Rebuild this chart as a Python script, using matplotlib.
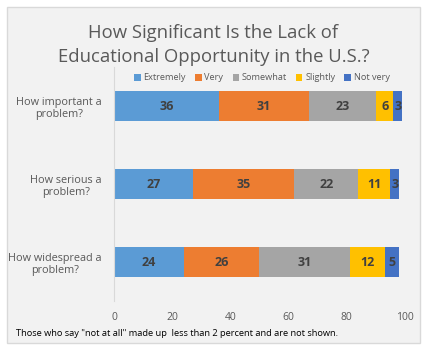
import matplotlib.pyplot as plt
from matplotlib.patches import Rectangle

questions = ["How important a\nproblem?", "How serious a\nproblem?", "How widespread a\nproblem?"]
levels = ["Extremely", "Very", "Somewhat", "Slightly", "Not very"]
extremely = [36, 27, 24]
very = [31, 35, 26]
somewhat = [23, 22, 31]
slightly = [6, 11, 12]
not_very = [3, 3, 5]
colors = ["#5B9BD5", "#ED7D31", "#A5A5A5", "#FFC000", "#4472C4"]

plt.rcParams['font.family'] = ['Open Sans', 'DejaVu Sans']

fig = plt.figure(figsize=(4.27, 3.5), dpi=100)
fig.patch.set_facecolor("white")
# grey chart area with border
fig.patches.append(Rectangle((7 / 427, 7 / 350), 413 / 427, 336 / 350, transform=fig.transFigure,
                             facecolor="#F2F2F2", edgecolor="#D9D9D9", lw=1, zorder=-1))

ax = fig.add_axes([114 / 427, 49 / 350, 291 / 427, 234 / 350])
ax.set_facecolor("none")
ax.set_zorder(2)

ypos = list(range(len(questions)))
left = [0] * len(questions)
for name, vals, col in zip(levels, [extremely, very, somewhat, slightly, not_very], colors):
    bars = ax.barh(ypos, vals, left=left, height=0.39, color=col, label=name)
    for b, v in zip(bars, vals):
        ax.text(b.get_x() + b.get_width() / 2, b.get_y() + b.get_height() / 2, str(v),
                ha="center", va="center", fontsize=9, fontweight="bold", color="#404040")
    left = [l + v for l, v in zip(left, vals)]

ax.set_xlim(0, 100)
ax.set_ylim(2.5, -0.5)
ax.set_xticks([0, 20, 40, 60, 80, 100])
ax.set_yticks(ypos)
ax.set_yticklabels(questions, fontsize=7.8, color="#595959")
for lbl in ax.get_yticklabels():
    lbl.set_multialignment("center")
ax.tick_params(axis="x", labelsize=7.5, colors="#595959", length=0, pad=8)
ax.tick_params(axis="y", length=0, pad=9)
for s in ["top", "right", "bottom"]:
    ax.spines[s].set_visible(False)
ax.spines["left"].set_color("#D9D9D9")

fig.text(0.5, 1 - 45 / 350, "How Significant Is the Lack of\nEducational Opportunity in the U.S.?",
         ha="center", va="center", fontsize=13.3, color="#595959", linespacing=1.45)
fig.legend(loc="center", bbox_to_anchor=(262 / 427, 1 - 78 / 350), ncol=5, frameon=False,
           fontsize=6.6, handlelength=0.7, handleheight=0.7, handletextpad=0.3, columnspacing=1.0,
           labelcolor="#595959")
fig.text(16 / 427, 1 - 333 / 350, 'Those who say "not at all" made up  less than 2 percent and are not shown.',
         ha="left", va="center", fontsize=6.7, color="black")

fig.savefig("out.png", dpi=100)
